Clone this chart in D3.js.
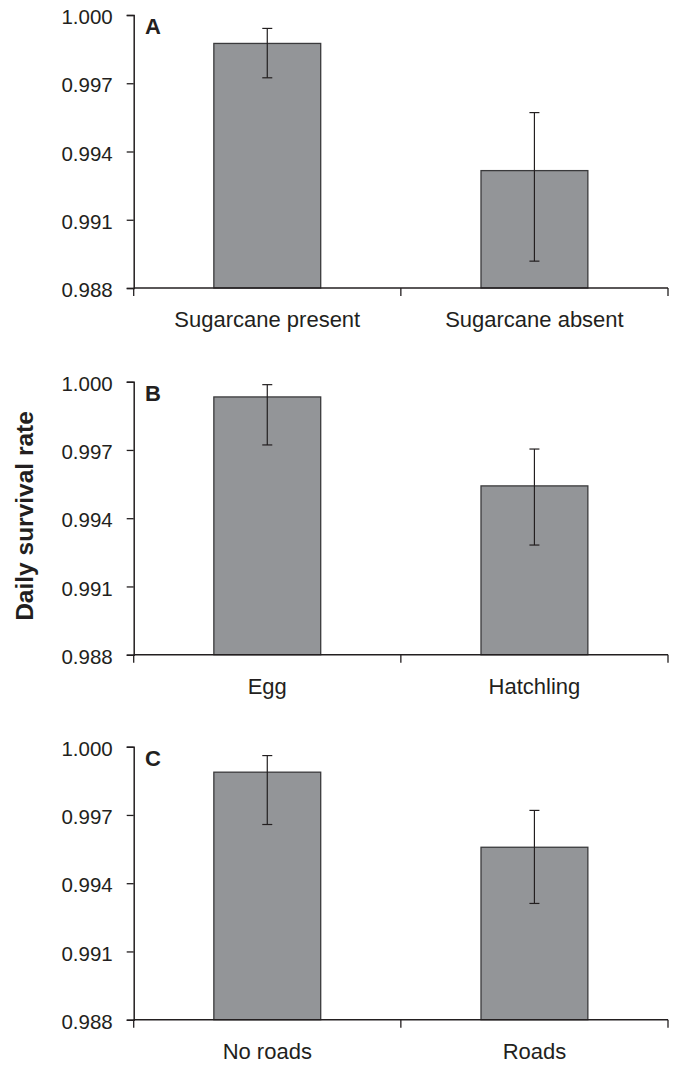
<!DOCTYPE html>
<html lang="en">
<head>
    <meta charset="UTF-8">
    <title>Daily survival rate</title>
    <script src="https://cdn.jsdelivr.net/npm/d3@7"></script>
    <style>
        body { margin: 0; background: #fff; }
        text { font-family: "Liberation Sans", Arial, sans-serif; fill: #231f20; }
    </style>
</head>
<body>
<script>
    // values
    const panelLetters = ['A', 'B', 'C']
    const categoriesA = ['Sugarcane present', 'Sugarcane absent']
    const categoriesB = ['Egg', 'Hatchling']
    const categoriesC = ['No roads', 'Roads']
    const meansA = [0.99875, 0.99316]
    const lowA = [0.99724, 0.98918]
    const highA = [0.99941, 0.99571]
    const meansB = [0.99933, 0.99542]
    const lowB = [0.99722, 0.99282]
    const highB = [0.99987, 0.99704]
    const meansC = [0.99888, 0.99558]
    const lowC = [0.99658, 0.99311]
    const highC = [0.99961, 0.9972]
    const yTicks = [0.988, 0.991, 0.994, 0.997, 1.000]

    const [width, height] = [674, 1065]
    const left = 133.7, right = 668
    const panelTops = [15, 381.7, 746.7]
    const panelH = 273

    const panels = [
        {cats: categoriesA, mean: meansA, lo: lowA, hi: highA},
        {cats: categoriesB, mean: meansB, lo: lowB, hi: highB},
        {cats: categoriesC, mean: meansC, lo: lowC, hi: highC}
    ]

    const svg = d3.select('body').append('svg')
        .attr('width', width)
        .attr('height', height)

    const ink = '#231f20'

    panels.forEach((p, i) => {
        const top = panelTops[i]
        const bottom = top + panelH
        const y = d3.scaleLinear().domain([0.988, 1.000]).range([bottom, top])
        const x = d3.scaleBand().domain(p.cats).range([left, right])
            .paddingInner(0.6).paddingOuter(0.3)
        const xb = d3.scaleBand().domain(p.cats).range([left, right]).padding(0)

        const g = svg.append('g')

        // bars
        g.selectAll('rect.bar').data(p.cats).enter().append('rect')
            .attr('class', 'bar')
            .attr('x', d => x(d))
            .attr('width', x.bandwidth())
            .attr('y', (d, j) => y(p.mean[j]))
            .attr('height', (d, j) => bottom - y(p.mean[j]))
            .attr('fill', '#939598')
            .attr('stroke', '#3a3a3c')
            .attr('stroke-width', 1.3)

        // error bars
        const err = g.selectAll('g.err').data(p.cats).enter().append('g').attr('class', 'err')
        const cx = d => x(d) + x.bandwidth() / 2
        err.append('line')
            .attr('x1', cx).attr('x2', cx)
            .attr('y1', (d, j) => y(p.lo[j])).attr('y2', (d, j) => y(p.hi[j]))
        err.append('line')
            .attr('x1', d => cx(d) - 5).attr('x2', d => cx(d) + 5)
            .attr('y1', (d, j) => y(p.hi[j])).attr('y2', (d, j) => y(p.hi[j]))
        err.append('line')
            .attr('x1', d => cx(d) - 5).attr('x2', d => cx(d) + 5)
            .attr('y1', (d, j) => y(p.lo[j])).attr('y2', (d, j) => y(p.lo[j]))
        err.selectAll('line').attr('stroke', ink).attr('stroke-width', 1.2)

        // y axis
        const yAxis = g.append('g')
            .attr('transform', `translate(${left},0)`)
            .call(d3.axisLeft(y).tickValues(yTicks).tickFormat(d3.format('.3f')).tickSizeOuter(0).tickSize(7).tickPadding(14))
        yAxis.select('.domain').attr('stroke', ink).attr('stroke-width', 1.5)
        yAxis.selectAll('.tick line').attr('stroke', ink).attr('stroke-width', 1.3)
        yAxis.selectAll('.tick text')
            .attr('font-size', 20.5).attr('fill', ink)
            .attr('dy', '0.42em')
            .style('font-family', '"Liberation Sans", Arial, sans-serif')

        // x axis: ticks at category boundaries
        const bounds = [left].concat(p.cats.map(c => xb(c) + xb.bandwidth()))
        g.append('line')
            .attr('x1', left).attr('x2', right)
            .attr('y1', bottom).attr('y2', bottom)
            .attr('stroke', ink).attr('stroke-width', 1.5)
        g.selectAll('line.xt').data(bounds).enter().append('line')
            .attr('class', 'xt')
            .attr('x1', d => d).attr('x2', d => d)
            .attr('y1', bottom).attr('y2', bottom + 8)
            .attr('stroke', ink).attr('stroke-width', 1.3)
        g.selectAll('text.cat').data(p.cats).enter().append('text')
            .attr('class', 'cat')
            .attr('x', d => xb(d) + xb.bandwidth() / 2)
            .attr('y', bottom + 39)
            .attr('text-anchor', 'middle')
            .attr('font-size', 22)
            .text(d => d)

        // panel letter
        g.append('text')
            .attr('x', 145).attr('y', top + 19)
            .attr('font-size', 22).attr('font-weight', 'bold')
            .text(panelLetters[i])
    })

    // shared y title
    svg.append('text')
        .attr('transform', 'translate(33,516) rotate(-90)')
        .attr('text-anchor', 'middle')
        .attr('font-size', 24.5)
        .attr('font-weight', 'bold')
        .text('Daily survival rate')
</script>
</body>
</html>
